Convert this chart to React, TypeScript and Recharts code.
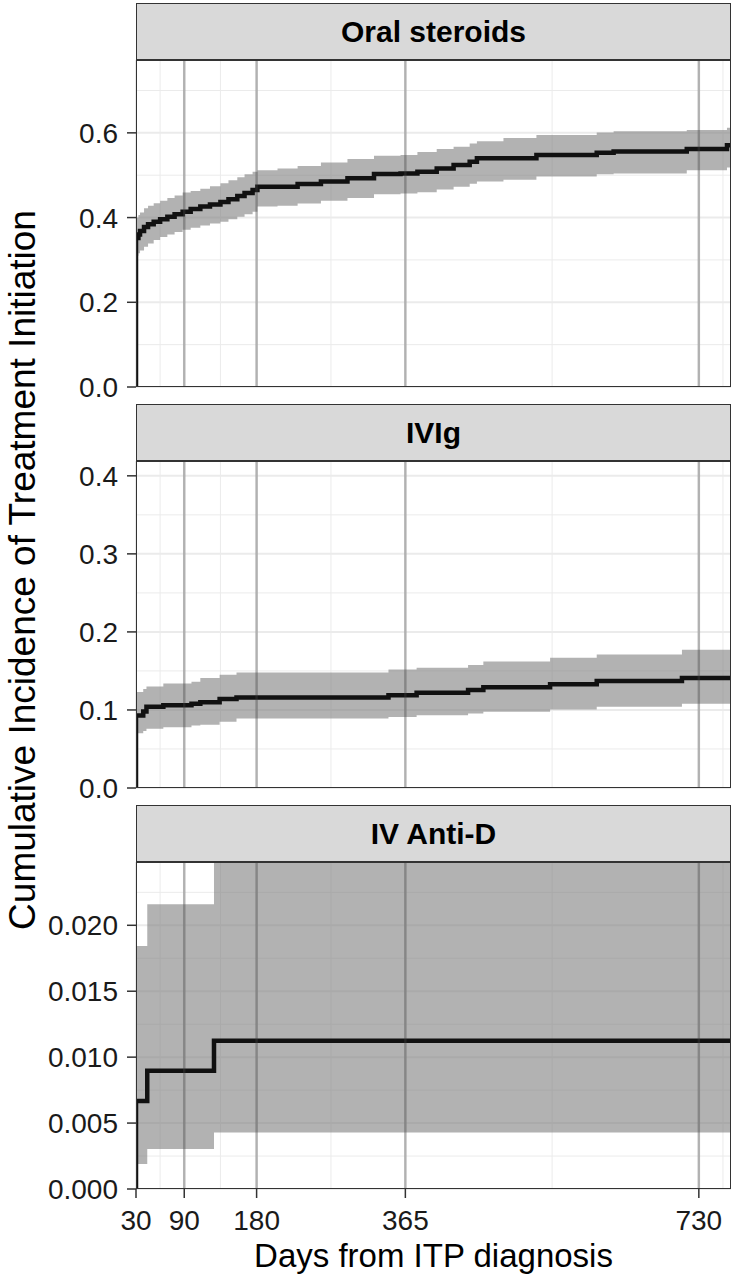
import {
  ComposedChart,
  Area,
  Line,
  XAxis,
  YAxis,
  CartesianGrid,
  ReferenceLine,
} from 'recharts';

// x axis (days since ITP diagnosis)
const dayTicks = [30, 90, 180, 365, 730];
const dayMinor = [60, 135, 272.5, 547.5, 760];
const markerDays = [90, 180, 365, 730];

// Oral steroids
const steroidDays = [30, 30, 33, 35, 40, 45, 52, 60, 69, 78, 88, 98, 110, 122, 135, 145, 156, 165, 175, 181, 206, 231, 260, 293, 326, 359, 380, 404, 425, 445, 454, 487, 528, 603, 624, 715, 765, 770];
const steroidEst = [0, 0.352, 0.36, 0.368, 0.378, 0.384, 0.39, 0.396, 0.402, 0.408, 0.414, 0.42, 0.426, 0.431, 0.437, 0.443, 0.451, 0.458, 0.465, 0.473, 0.473, 0.479, 0.485, 0.493, 0.503, 0.504, 0.508, 0.516, 0.524, 0.532, 0.54, 0.54, 0.548, 0.553, 0.556, 0.562, 0.571, 0.571];
const steroidLo = [0, 0.31, 0.316, 0.322, 0.331, 0.339, 0.347, 0.354, 0.36, 0.366, 0.371, 0.376, 0.381, 0.386, 0.39, 0.396, 0.402, 0.408, 0.414, 0.426, 0.428, 0.433, 0.44, 0.446, 0.455, 0.457, 0.46, 0.466, 0.473, 0.48, 0.485, 0.489, 0.497, 0.502, 0.504, 0.512, 0.518, 0.518];
const steroidHi = [0, 0.4, 0.406, 0.412, 0.422, 0.428, 0.434, 0.44, 0.446, 0.452, 0.459, 0.463, 0.468, 0.474, 0.481, 0.488, 0.495, 0.502, 0.508, 0.512, 0.516, 0.522, 0.53, 0.538, 0.546, 0.548, 0.555, 0.562, 0.567, 0.575, 0.58, 0.588, 0.595, 0.601, 0.604, 0.607, 0.612, 0.612];

// IVIg
const ivigDays = [30, 30, 39, 43, 64, 99, 110, 134, 155, 344, 379, 443, 462, 545, 603, 709, 770];
const ivigEst = [0, 0.093, 0.098, 0.104, 0.106, 0.108, 0.11, 0.114, 0.116, 0.119, 0.122, 0.1255, 0.129, 0.133, 0.137, 0.141, 0.141];
const ivigLo = [0, 0.07, 0.073, 0.076, 0.078, 0.08, 0.081, 0.085, 0.089, 0.091, 0.0933, 0.0955, 0.0976, 0.1006, 0.104, 0.108, 0.108];
const ivigHi = [0, 0.123, 0.127, 0.13, 0.134, 0.136, 0.141, 0.145, 0.148, 0.152, 0.154, 0.1575, 0.162, 0.167, 0.171, 0.177, 0.177];

// IV Anti-D
const antiDDays = [30, 30, 44, 127, 770];
const antiDEst = [0, 0.00668, 0.00896, 0.01124, 0.01124];
const antiDLo = [0, 0.00189, 0.00303, 0.00429, 0.00429];
const antiDHi = [0, 0.01843, 0.0216, 0.028, 0.028];

const FONT = '"Liberation Sans", Arial, Helvetica, sans-serif';
const PLOT_LEFT = 136;
const PLOT_W = 595;
const PLOT_H = 327;
const STRIP_H = 57;
const PAD = 16; // room below the plot so the 0.0 label is not clipped

function buildRows(days: number[], est: number[], lo: number[], hi: number[]) {
  return days.map((d, i) => ({ day: d, est: est[i], band: [lo[i], hi[i]] }));
}

interface PanelProps {
  title: string;
  stripTop: number;
  rows: { day: number; est: number; band: number[] }[];
  yMax: number;
  yTicks: number[];
  yMinor: number[];
  digits: number;
  showX?: boolean;
}

function Panel({ title, stripTop, rows, yMax, yTicks, yMinor, digits, showX }: PanelProps) {
  const plotTop = stripTop + STRIP_H;
  const xAxisH = showX ? 60 : 0;
  return (
    <>
      <div
        style={{
          position: 'absolute',
          left: PLOT_LEFT,
          top: stripTop,
          width: PLOT_W,
          height: STRIP_H,
          boxSizing: 'border-box',
          background: '#D9D9D9',
          border: '1.5px solid #333',
          display: 'flex',
          alignItems: 'center',
          justifyContent: 'center',
          fontFamily: FONT,
          fontWeight: 'bold',
          fontSize: 30,
          color: '#000',
        }}
      >
        {title}
      </div>
      <div style={{ position: 'absolute', left: 0, top: plotTop }}>
        <ComposedChart
          width={735}
          height={PLOT_H + (showX ? xAxisH : PAD)}
          data={rows}
          margin={{ top: 0, right: 4, bottom: showX ? 0 : PAD, left: 0 }}
        >
          <CartesianGrid
            stroke="#EBEBEB"
            strokeWidth={1}
            horizontalValues={yMinor}
            verticalValues={dayMinor}
          />
          <CartesianGrid
            stroke="#EBEBEB"
            strokeWidth={2}
            horizontalValues={yTicks}
            verticalValues={dayTicks}
          />
          <XAxis
            dataKey="day"
            type="number"
            domain={[30, 770]}
            ticks={dayTicks}
            allowDataOverflow
            hide={!showX}
            height={xAxisH}
            axisLine={false}
            tickSize={9}
            tickMargin={12}
            tickLine={{ stroke: '#333', strokeWidth: 1.5 }}
            tick={{ fill: '#1a1a1a', fontSize: 28, fontFamily: FONT }}
            interval={0}
          />
          <YAxis
            type="number"
            domain={[0, yMax]}
            ticks={yTicks}
            allowDataOverflow
            width={PLOT_LEFT}
            axisLine={false}
            tickSize={9}
            tickMargin={9}
            tickLine={{ stroke: '#333', strokeWidth: 1.5 }}
            tick={{ fill: '#1a1a1a', fontSize: 28, fontFamily: FONT }}
            tickFormatter={(v: number) => v.toFixed(digits)}
            interval={0}
          />
          <Area
            dataKey="band"
            type="stepAfter"
            stroke="none"
            fill="#7F7F7F"
            fillOpacity={0.6}
            isAnimationActive={false}
          />
          <Line
            dataKey="est"
            type="stepAfter"
            stroke="#111"
            strokeWidth={4.5}
            dot={false}
            isAnimationActive={false}
          />
          {markerDays.map((d) => (
            <ReferenceLine
              key={d}
              x={d}
              stroke="#444"
              strokeOpacity={0.35}
              strokeWidth={2.5}
            />
          ))}
        </ComposedChart>
      </div>
      <div
        style={{
          position: 'absolute',
          left: PLOT_LEFT,
          top: plotTop,
          width: PLOT_W,
          height: PLOT_H,
          boxSizing: 'border-box',
          border: '1.5px solid #333',
          pointerEvents: 'none',
        }}
      />
    </>
  );
}

export default function App() {
  return (
    <div
      style={{
        position: 'absolute',
        left: 0,
        top: 0,
        width: 735,
        height: 1277,
        background: '#fff',
        overflow: 'hidden',
      }}
    >
      <svg width={735} height={1277} style={{ position: 'absolute', left: 0, top: 0 }}>
        <text
          x={35}
          y={570}
          transform="rotate(-90, 35, 570)"
          textAnchor="middle"
          fontFamily={FONT}
          fontSize={37}
          fill="#000"
        >
          Cumulative Incidence of Treatment Initiation
        </text>
        <text x={433.5} y={1267} textAnchor="middle" fontFamily={FONT} fontSize={33} fill="#000">
          Days from ITP diagnosis
        </text>
      </svg>
      <Panel
        title="Oral steroids"
        stripTop={3}
        rows={buildRows(steroidDays, steroidEst, steroidLo, steroidHi)}
        yMax={0.772}
        yTicks={[0, 0.2, 0.4, 0.6]}
        yMinor={[0.1, 0.3, 0.5, 0.7]}
        digits={1}
      />
      <Panel
        title="IVIg"
        stripTop={404}
        rows={buildRows(ivigDays, ivigEst, ivigLo, ivigHi)}
        yMax={0.419}
        yTicks={[0, 0.1, 0.2, 0.3, 0.4]}
        yMinor={[0.05, 0.15, 0.25, 0.35]}
        digits={1}
      />
      <Panel
        title="IV Anti-D"
        stripTop={805}
        rows={buildRows(antiDDays, antiDEst, antiDLo, antiDHi)}
        yMax={0.0248}
        yTicks={[0, 0.005, 0.01, 0.015, 0.02]}
        yMinor={[0.0025, 0.0075, 0.0125, 0.0175, 0.0225]}
        digits={3}
        showX
      />
    </div>
  );
}
